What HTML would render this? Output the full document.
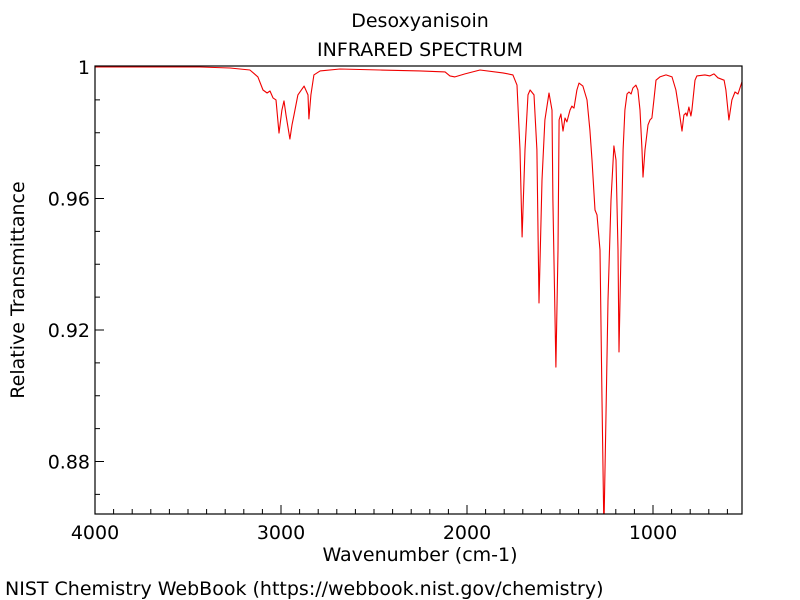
<!DOCTYPE html>
<html><head><meta charset="utf-8"><style>
body{margin:0;background:#fff;}
svg{display:block;font-family:"DejaVu Sans","Liberation Sans",sans-serif;}
</style></head><body>
<svg id="chart" width="800" height="600">
<text x="420" y="27" text-anchor="middle" font-size="19">Desoxyanisoin</text>
<text x="420" y="56" text-anchor="middle" font-size="19">INFRARED SPECTRUM</text>
<text x="420" y="561" text-anchor="middle" font-size="19">Wavenumber (cm-1)</text>
<text transform="translate(24,290) rotate(-90)" text-anchor="middle" font-size="19">Relative Transmittance</text>
<text x="5" y="595" font-size="19">NIST Chemistry WebBook (https://webbook.nist.gov/chemistry)</text>
<g id="ticks"></g>
<clipPath id="clip"><rect x="95" y="66" width="647" height="448"/></clipPath>
<path id="line" fill="none" stroke="#f00000" stroke-width="1.1" stroke-linejoin="round" clip-path="url(#clip)"/>
<rect x="95" y="66" width="647" height="448" fill="none" stroke="#000" stroke-width="1.2"/>
</svg>
<script>
const wavenumbers=[4000,3436,3274,3167,3124,3097,3075,3059,3043,3027,3011,2995,2984,2973,2952,2941,2930,2909,2876,2855,2850,2839,2823,2790,2683,2468,2253,2118,2092,2065,2011,1930,1807,1753,1731,1715,1704,1688,1672,1661,1640,1624,1613,1597,1581,1559,1543,1538,1522,1511,1505,1495,1484,1473,1463,1446,1436,1425,1409,1398,1377,1355,1339,1328,1312,1301,1285,1274,1264,1253,1242,1226,1210,1199,1188,1183,1172,1161,1151,1140,1129,1118,1108,1092,1081,1070,1059,1054,1043,1027,1016,1006,995,984,963,930,898,877,860,844,834,823,817,807,796,791,774,764,721,694,672,651,618,608,592,576,559,543,522];
const transmittance=[1.0,1.0,0.9997,0.9991,0.997,0.993,0.9921,0.9927,0.9906,0.99,0.9799,0.9869,0.9897,0.9854,0.9781,0.9824,0.9854,0.9915,0.9942,0.9915,0.9842,0.9915,0.9976,0.9988,0.9994,0.9991,0.9988,0.9985,0.9973,0.997,0.9979,0.9991,0.9982,0.9976,0.9945,0.9748,0.9483,0.9748,0.9915,0.993,0.9915,0.9748,0.9282,0.9656,0.9839,0.9921,0.9869,0.9595,0.9087,0.9443,0.9839,0.9857,0.9805,0.9845,0.9833,0.9869,0.9881,0.9875,0.993,0.9951,0.9942,0.99,0.9808,0.9717,0.9565,0.955,0.9443,0.8987,0.8592,0.8926,0.9291,0.9595,0.976,0.9717,0.9443,0.9133,0.9443,0.9748,0.9869,0.9918,0.9924,0.9918,0.9936,0.9945,0.993,0.9869,0.9748,0.9665,0.9748,0.9824,0.9839,0.9845,0.99,0.996,0.997,0.9976,0.997,0.993,0.9869,0.9805,0.9854,0.986,0.9851,0.9878,0.9851,0.9869,0.996,0.9973,0.9976,0.9973,0.9979,0.9967,0.996,0.993,0.9839,0.99,0.9924,0.9918,0.9954];
const xTickLabels=[4000,3000,2000,1000];
const yTickLabels=[1,0.96,0.92,0.88];
const X0=95,PX=0.186;
const xs=w=>X0+(4000-w)*PX;
const ys=t=>67+(1-t)*3287.5;
const NS='http://www.w3.org/2000/svg';
let d='';
wavenumbers.forEach((w,i)=>{d+=(i?'L':'M')+xs(w).toFixed(1)+','+ys(transmittance[i]).toFixed(1);});
document.getElementById('line').setAttribute('d',d);
const g=document.getElementById('ticks');
function line(x1,y1,x2,y2){const l=document.createElementNS(NS,'line');l.setAttribute('x1',x1);l.setAttribute('y1',y1);l.setAttribute('x2',x2);l.setAttribute('y2',y2);l.setAttribute('stroke','#000');l.setAttribute('stroke-width','1');


g.appendChild(l);}
for(let w=4000;w>=520;w-=100){const x=xs(w);const major=w%1000===0;line(x,514,x,514-(major?9:5));}
for(let k=0;k<=13;k++){const t=1-k*0.01;const y=ys(t);if(y>514)break;const major=Math.abs(((1-t)/0.04)-Math.round((1-t)/0.04))<1e-6;line(95,y,95+(major?9:5),y);}
xTickLabels.forEach(v=>{const t=document.createElementNS(NS,'text');t.setAttribute('x',xs(v));t.setAttribute('y',539);t.setAttribute('text-anchor','middle');t.setAttribute('font-size','19');t.textContent=v;


g.appendChild(t);});
yTickLabels.forEach(v=>{const t=document.createElementNS(NS,'text');t.setAttribute('x',90);t.setAttribute('y',ys(v)+7);t.setAttribute('text-anchor','end');t.setAttribute('font-size','19');t.textContent=v;


g.appendChild(t);});
</script>
</body></html>
